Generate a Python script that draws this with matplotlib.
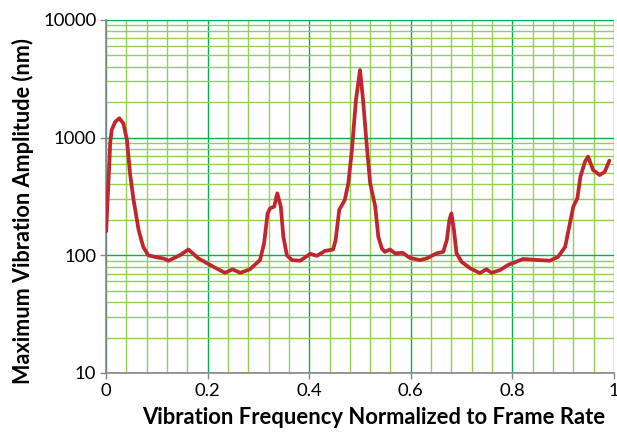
import matplotlib
matplotlib.use("Agg")
import matplotlib.pyplot as plt
import matplotlib.ticker as mticker
import numpy as np

# Data (frequency / frame rate, amplitude in nm)
freq = [0.000, 0.0045, 0.008, 0.011, 0.018, 0.026, 0.034, 0.041, 0.047, 0.054,
        0.064, 0.073, 0.083, 0.100, 0.113, 0.123, 0.145, 0.162, 0.182, 0.211,
        0.234, 0.249, 0.264, 0.283, 0.303, 0.311, 0.318, 0.323, 0.331, 0.337,
        0.344, 0.349, 0.356, 0.366, 0.382, 0.392, 0.402, 0.415, 0.431, 0.447,
        0.452, 0.459, 0.470, 0.477, 0.484, 0.492, 0.500, 0.506, 0.514, 0.520,
        0.530, 0.536, 0.543, 0.549, 0.559, 0.569, 0.584, 0.598, 0.608, 0.618,
        0.631, 0.651, 0.664, 0.671, 0.676, 0.680, 0.685, 0.690, 0.700, 0.717,
        0.736, 0.749, 0.759, 0.776, 0.792, 0.821, 0.854, 0.874, 0.890, 0.904,
        0.912, 0.920, 0.928, 0.934, 0.943, 0.949, 0.959, 0.972, 0.982, 0.991]
amplitude = [160, 409, 895, 1160, 1365, 1460, 1320, 955, 498, 295,
             164, 118, 100, 96, 94, 90, 100, 112, 94, 80,
             71, 76, 71, 76, 91, 126, 227, 251, 259, 336,
             259, 144, 100, 91, 90, 96, 103, 99, 109, 112,
             135, 243, 295, 409, 785, 2090, 3750, 2090, 785, 409,
             259, 144, 114, 107, 112, 104, 105, 95, 93, 91,
             94, 104, 107, 135, 200, 227, 164, 104, 88, 77.5,
             70.6, 76, 71, 75, 83, 93, 91, 90, 97, 118,
             175, 259, 305, 466, 624, 689, 530, 481, 513, 637]

x_ticks = [0, 0.2, 0.4, 0.6, 0.8, 1]
x_tick_labels = ["0", "0.2", "0.4", "0.6", "0.8", "1"]
y_ticks = [10, 100, 1000, 10000]
y_tick_labels = ["10", "100", "1000", "10000"]

MAJOR = "#00B050"
MINOR = "#92D050"
LINE = "#C0262D"
GREY = "#868686"

plt.rcParams["font.family"] = ["Lato", "DejaVu Sans"]

fig = plt.figure(figsize=(6.17, 4.33), dpi=100)
ax = fig.add_axes([0.172, 0.1386, 0.823, 0.8154])

ax.set_yscale("log")
ax.set_xlim(0, 1)
ax.set_ylim(10, 10000)

ax.set_xticks(x_ticks)
ax.set_xticklabels(x_tick_labels)
ax.set_xticks(np.arange(0.04, 1.0, 0.04), minor=True)
ax.set_yticks(y_ticks)
ax.set_yticklabels(y_tick_labels)
ax.yaxis.set_minor_locator(mticker.LogLocator(base=10, subs=np.arange(2, 10)))
ax.yaxis.set_minor_formatter(mticker.NullFormatter())

ax.grid(which="minor", color=MINOR, linewidth=1.0)
ax.grid(which="major", color=MAJOR, linewidth=1.0)
ax.set_axisbelow(True)

ax.plot(freq, amplitude, color=LINE, linewidth=2.7, solid_joinstyle="round",
        solid_capstyle="round", zorder=3)

ax.tick_params(which="major", length=4, width=1, color=GREY, labelsize=13.3,
               labelcolor="black", pad=3)
ax.tick_params(which="minor", length=0)
for s in ["top", "right"]:
    ax.spines[s].set_visible(False)
for s in ["left", "bottom"]:
    ax.spines[s].set_color(GREY)
    ax.spines[s].set_linewidth(1.2)

ax.set_xlabel("Vibration Frequency Normalized to Frame Rate", fontsize=15.8,
              fontweight="bold")
ax.set_ylabel("Maximum Vibration Amplitude (nm)", fontsize=15.6,
              fontweight="bold")
ax.xaxis.set_label_coords(0.527, -0.097)
ax.yaxis.set_label_coords(-0.143, 0.458)

fig.savefig("out.png", dpi=100)
